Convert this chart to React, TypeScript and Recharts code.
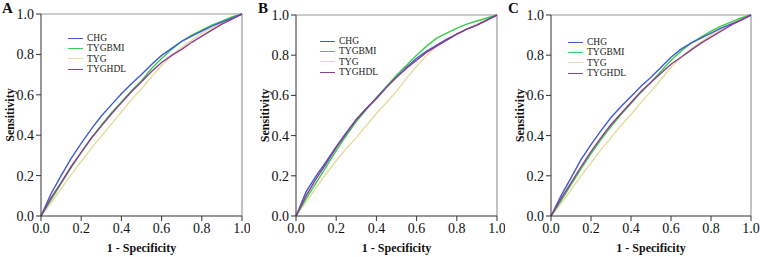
import React from "react";
import {
  LineChart,
  Line,
  XAxis,
  YAxis,
  ReferenceLine,
  Legend,
  Label,
} from "recharts";

// false positive rate, shared by every curve
const fpr = [
  0, 0.05, 0.1, 0.15, 0.2, 0.25, 0.3, 0.35, 0.4, 0.45, 0.5, 0.55, 0.6, 0.65,
  0.7, 0.75, 0.8, 0.85, 0.9, 0.95, 1,
];
const ticks = [0, 0.2, 0.4, 0.6, 0.8, 1];

// panel A
const chgA = [0, 0.11, 0.2, 0.285, 0.36, 0.43, 0.495, 0.55, 0.605, 0.655, 0.7, 0.75, 0.795, 0.83, 0.865, 0.89, 0.915, 0.94, 0.96, 0.98, 1];
const bmiA = [0, 0.08, 0.16, 0.24, 0.315, 0.385, 0.45, 0.51, 0.565, 0.62, 0.67, 0.73, 0.78, 0.825, 0.865, 0.895, 0.92, 0.945, 0.965, 0.985, 1];
const tygA = [0, 0.065, 0.135, 0.205, 0.27, 0.335, 0.395, 0.455, 0.515, 0.575, 0.63, 0.69, 0.745, 0.795, 0.835, 0.87, 0.905, 0.93, 0.955, 0.98, 1];
const hdlA = [0, 0.09, 0.165, 0.245, 0.315, 0.385, 0.445, 0.505, 0.56, 0.615, 0.665, 0.715, 0.76, 0.795, 0.825, 0.86, 0.89, 0.92, 0.95, 0.975, 1];

// panel B
const chgB = [0, 0.12, 0.2, 0.27, 0.345, 0.415, 0.48, 0.535, 0.585, 0.64, 0.69, 0.74, 0.785, 0.82, 0.85, 0.88, 0.905, 0.93, 0.95, 0.975, 1];
const bmiB = [0, 0.085, 0.165, 0.245, 0.325, 0.4, 0.47, 0.53, 0.59, 0.645, 0.7, 0.75, 0.8, 0.845, 0.885, 0.91, 0.935, 0.955, 0.97, 0.985, 1];
const tygB = [0, 0.07, 0.14, 0.21, 0.275, 0.335, 0.39, 0.45, 0.51, 0.565, 0.62, 0.685, 0.745, 0.8, 0.845, 0.875, 0.905, 0.93, 0.955, 0.98, 1];
const hdlB = [0, 0.1, 0.185, 0.26, 0.34, 0.41, 0.48, 0.535, 0.585, 0.64, 0.69, 0.735, 0.775, 0.815, 0.845, 0.875, 0.905, 0.93, 0.95, 0.975, 1];

// panel C
const chgC = [0, 0.1, 0.19, 0.28, 0.355, 0.425, 0.49, 0.545, 0.595, 0.645, 0.69, 0.74, 0.79, 0.83, 0.86, 0.885, 0.91, 0.935, 0.955, 0.975, 1];
const bmiC = [0, 0.075, 0.155, 0.235, 0.31, 0.38, 0.445, 0.505, 0.56, 0.615, 0.665, 0.72, 0.775, 0.82, 0.86, 0.89, 0.92, 0.945, 0.965, 0.985, 1];
const tygC = [0, 0.06, 0.13, 0.2, 0.265, 0.33, 0.39, 0.45, 0.505, 0.565, 0.62, 0.68, 0.74, 0.79, 0.83, 0.865, 0.9, 0.93, 0.955, 0.98, 1];
const hdlC = [0, 0.085, 0.165, 0.245, 0.32, 0.39, 0.455, 0.51, 0.565, 0.62, 0.665, 0.71, 0.755, 0.79, 0.825, 0.86, 0.89, 0.92, 0.95, 0.975, 1];

const series = [
  { key: "CHG", color: "#3f5ccf" },
  { key: "TYGBMI", color: "#3ccc4a" },
  { key: "TYG", color: "#e3dc9e" },
  { key: "TYGHDL", color: "#8d3d92" },
];
// drawing order (last on top)
const drawOrder = ["TYG", "TYGBMI", "CHG", "TYGHDL"];

const font = "'Liberation Serif', 'Times New Roman', serif";

const buildRows = (chg: number[], bmi: number[], tyg: number[], hdl: number[]) =>
  fpr.map((x, i) => ({ x, CHG: chg[i], TYGBMI: bmi[i], TYG: tyg[i], TYGHDL: hdl[i] }));

const panels = [
  { letter: "A", rows: buildRows(chgA, bmiA, tygA, hdlA), left: 0, top: 14, right: 8, letterX: 2, legendX: 68, legendY: 33 },
  { letter: "B", rows: buildRows(chgB, bmiB, tygB, hdlB), left: 255, top: 15, right: 8, letterX: 258, legendX: 65, legendY: 36 },
  { letter: "C", rows: buildRows(chgC, bmiC, tygC, hdlC), left: 510, top: 15, right: 9, letterX: 508, legendX: 58, legendY: 37 },
];

const LegendBox = () => (
  <div style={{ fontFamily: font, fontSize: 9.5, color: "#222", lineHeight: "10.3px" }}>
    {series.map((s) => (
      <div key={s.key} style={{ display: "flex", alignItems: "center", height: 10.3 }}>
        <span style={{ display: "inline-block", width: 15, height: 0, borderTop: `1.6px solid ${s.color}`, marginRight: 4 }} />
        <span>{s.key}</span>
      </div>
    ))}
  </div>
);

const fmt = (v: number) => v.toFixed(1);

const Panel = ({ p }: { p: (typeof panels)[number] }) => (
  <div style={{ position: "absolute", left: p.left, top: 0 }}>
    <LineChart
      width={250}
      height={257}
      data={p.rows}
      margin={{ top: p.top, right: p.right, left: 0, bottom: 0 }}
    >
      <XAxis
        dataKey="x"
        type="number"
        domain={[0, 1]}
        ticks={ticks}
        tickFormatter={fmt}
        height={41}
        stroke="#333"
        tickSize={5}
        tickMargin={2}
        tick={{ fontFamily: font, fontSize: 14, fill: "#111" }}
        interval={0}
      >
        <Label
          content={(lp: any) => {
            const vb = lp.viewBox;
            return (
              <text
                x={vb.x + vb.width / 2}
                y={vb.y + 32}
                textAnchor="middle"
                dominantBaseline="central"
                style={{ fontFamily: font, fontSize: 12, fontWeight: "bold", fill: "#111" }}
              >
                1 - Specificity
              </text>
            );
          }}
        />
      </XAxis>
      <YAxis
        type="number"
        domain={[0, 1]}
        ticks={ticks}
        tickFormatter={fmt}
        width={41}
        stroke="#333"
        tickSize={5}
        tickMargin={2}
        tick={{ fontFamily: font, fontSize: 14, fill: "#111" }}
        interval={0}
      >
        <Label
          content={(lp: any) => {
            const vb = lp.viewBox;
            const cx = vb.x + vb.width - 31;
            const cy = vb.y + vb.height / 2;
            return (
              <text
                x={cx}
                y={cy}
                textAnchor="middle"
                dominantBaseline="central"
                transform={`rotate(-90, ${cx}, ${cy})`}
                style={{ fontFamily: font, fontSize: 12, fontWeight: "bold", fill: "#111" }}
              >
                Sensitivity
              </text>
            );
          }}
        />
      </YAxis>
      <ReferenceLine y={1} stroke="#999" strokeWidth={1.2} />
      <ReferenceLine x={1} stroke="#999" strokeWidth={1.2} />
      {drawOrder.map((k) => (
        <Line
          key={k}
          dataKey={k}
          type="linear"
          stroke={series.find((s) => s.key === k)!.color}
          strokeWidth={1.4}
          dot={false}
          activeDot={false}
          isAnimationActive={false}
        />
      ))}
      <Legend
        layout="vertical"
        align="center"
        verticalAlign="middle"
        content={() => <LegendBox />}
        wrapperStyle={{ left: p.legendX, top: p.legendY, width: "auto", height: "auto" }}
      />
    </LineChart>
    <div
      style={{
        position: "absolute",
        left: p.letterX - p.left,
        top: 1,
        fontFamily: font,
        fontSize: 15,
        fontWeight: "bold",
        lineHeight: "15px",
        color: "#111",
      }}
    >
      {p.letter}
    </div>
  </div>
);

const App = () => (
  <div style={{ position: "absolute", left: 0, top: 0, width: 760, height: 257, background: "#fff" }}>
    {panels.map((p) => (
      <Panel key={p.letter} p={p} />
    ))}
  </div>
);

export default App;
